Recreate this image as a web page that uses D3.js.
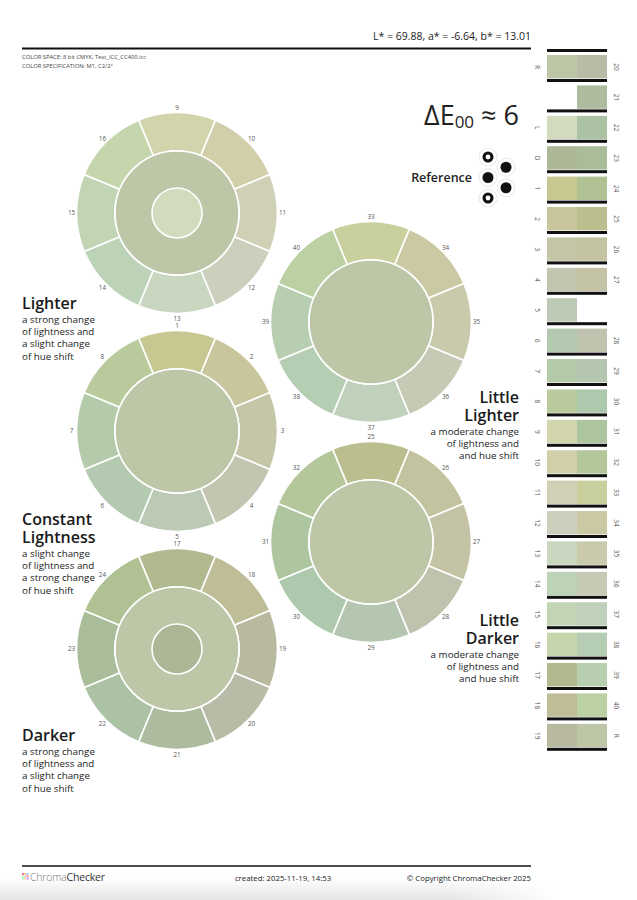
<!DOCTYPE html>
<html>
<head>
<meta charset="utf-8">
<script src="https://cdn.jsdelivr.net/npm/d3@7"></script>
<style>
  body { margin: 0; background: #fff; }
  svg { display: block; font-family: 'Open Sans', sans-serif; }
</style>
</head>
<body>
<div id="chart"></div>
<script>
// patch ids and their displayed colours
const patchIds = ['R', 'L', 'D',
  '1', '2', '3', '4', '5', '6', '7', '8', '9', '10',
  '11', '12', '13', '14', '15', '16', '17', '18', '19', '20',
  '21', '22', '23', '24', '25', '26', '27', '28', '29', '30',
  '31', '32', '33', '34', '35', '36', '37', '38', '39', '40'];
const patchHex = ['#bdc7a8', '#d2dbbe', '#acb795',
  '#c6c791', '#c9c59c', '#c5c6a8', '#c3c5b0', '#bbc9b5', '#b4cab0', '#b3cbab', '#b9cb9d', '#d2d5ab', '#d0cfaa',
  '#cfd0b6', '#cbcfbb', '#c9d6c0', '#bdd3b8', '#c1d5b5', '#c5d6ad', '#b1b98f', '#bfbc98', '#b9b9a0', '#b8bba5',
  '#adbb9f', '#abc3a4', '#a9bd9b', '#b0c193', '#bbbf90', '#c3c39f', '#c4c3a5', '#bfc2ac', '#b5c6b0', '#aec8ae',
  '#aec6a0', '#b4c79b', '#cacf9e', '#cbc9a3', '#c9c9ac', '#c6c9b3', '#bfd1bb', '#b5cdb2', '#b7cfb0', '#bbd0a3'];

// wheels: outer ring patches (clockwise from top), ring colour, optional centre
const wheelPatches = [
  ['9', '10', '11', '12', '13', '14', '15', '16'],
  ['33', '34', '35', '36', '37', '38', '39', '40'],
  ['1', '2', '3', '4', '5', '6', '7', '8'],
  ['25', '26', '27', '28', '29', '30', '31', '32'],
  ['17', '18', '19', '20', '21', '22', '23', '24'],
];
const wheelRing = ['R', 'R', 'R', 'R', 'R'];
const wheelCentre = ['L', null, null, null, 'D'];

// wheel captions
const captionTitles = [['Lighter'], ['Little', 'Lighter'], ['Constant', 'Lightness'], ['Little', 'Darker'], ['Darker']];
const captionLines = [
  ['a strong change', 'of lightness and', 'a slight change', 'of hue shift'],
  ['a moderate change', 'of lightness and', 'and hue shift'],
  ['a slight change', 'of lightness and', 'a strong change', 'of hue shift'],
  ['a moderate change', 'of lightness and', 'and hue shift'],
  ['a strong change', 'of lightness and', 'a slight change', 'of hue shift'],
];

// comparison strip, row by row
const stripLeft = ['R', '', 'L', 'D', '1', '2', '3', '4', '5', '6', '7', '8', '9', '10',
  '11', '12', '13', '14', '15', '16', '17', '18', '19'];
const stripRight = ['20', '21', '22', '23', '24', '25', '26', '27', '', '28', '29', '30', '31', '32',
  '33', '34', '35', '36', '37', '38', '39', '40', 'R'];

// reference symbol: which wheels have a centre patch
const refSymbol = [true, false, false, false, true];

const labText = 'L* = 69.88, a* = -6.64, b* = 13.01';
const colorSpace = 'COLOR SPACE: 8 bit CMYK, Test_ICC_CC400.icc';
const colorSpec = 'COLOR SPECIFICATION: M1, C2/2°';
const created = 'created: 2025-11-19, 14:53';
const copyright = '© Copyright ChromaChecker 2025';

const width = 637, height = 900;
const color = d3.scaleOrdinal().domain(patchIds).range(patchHex);

const svg = d3.select('#chart').append('svg')
  .attr('width', width)
  .attr('height', height)
  .attr('viewBox', [0, 0, width, height]);

// footer shade
const defs = svg.append('defs');
const fg = defs.append('linearGradient').attr('id', 'shade').attr('x1', 0).attr('y1', 0).attr('x2', 0).attr('y2', 1);
fg.append('stop').attr('offset', 0).attr('stop-color', '#fff');
fg.append('stop').attr('offset', 1).attr('stop-color', '#e4e4e4');
const fh = defs.append('linearGradient').attr('id', 'fadeR');
fh.append('stop').attr('offset', 0.8).attr('stop-color', '#fff');
fh.append('stop').attr('offset', 1).attr('stop-color', '#000');
defs.append('mask').attr('id', 'fadeMask')
  .append('rect').attr('x', 0).attr('y', 878).attr('width', 560).attr('height', 22).attr('fill', 'url(#fadeR)');
svg.append('rect')
  .attr('x', 0).attr('y', 878).attr('width', 560).attr('height', 22)
  .attr('fill', 'url(#shade)')
  .attr('mask', 'url(#fadeMask)');

// header
svg.append('text')
  .attr('x', 531).attr('y', 40)
  .attr('text-anchor', 'end')
  .attr('font-size', 10.5)
  .attr('fill', '#222')
  .text(labText);

svg.append('line')
  .attr('x1', 22).attr('x2', 531).attr('y1', 48.5).attr('y2', 48.5)
  .attr('stroke', '#111').attr('stroke-width', 2);

svg.append('g')
  .attr('font-size', 5.8)
  .attr('fill', '#444')
  .selectAll('text')
  .data([colorSpace, colorSpec])
  .join('text')
    .attr('x', 22)
    .attr('y', (d, i) => 59 + i * 9)
    .text(d => d);

// delta E title
const de = svg.append('text')
  .attr('x', 519).attr('y', 125)
  .attr('text-anchor', 'end')
  .attr('fill', '#222');
de.append('tspan').attr('font-size', 27).text('ΔE');
de.append('tspan').attr('font-size', 17).attr('dy', 3).text('00');
de.append('tspan').attr('font-size', 27).attr('dy', -3).text(' ≈ 6');

// reference symbol
svg.append('text')
  .attr('x', 472).attr('y', 182)
  .attr('text-anchor', 'end')
  .attr('font-size', 12.5)
  .attr('font-weight', 600)
  .attr('fill', '#222')
  .text('Reference');

const symX = d3.scalePoint().domain([0, 1]).range([488, 506]);
const symY = d3.scalePoint().domain(d3.range(5)).range([157, 198]);
const sym = svg.append('g')
  .selectAll('g')
  .data(refSymbol)
  .join('g')
    .attr('transform', (d, i) => `translate(${symX(i % 2)},${symY(i)})`);
sym.append('circle').attr('r', 9).attr('fill', 'none').attr('stroke', '#e2e2e2').attr('stroke-width', 0.8);
sym.append('circle').attr('r', 5.5).attr('fill', '#111');
sym.filter(d => d).append('circle').attr('r', 2.4).attr('fill', '#fff');

// wheels
const wheelPos = [[177, 213], [371, 322], [177, 431], [371, 542], [177, 649]];
const pie = d3.pie().value(1).sort(null)
  .startAngle(-Math.PI / 8).endAngle(2 * Math.PI - Math.PI / 8);
const outerArc = d3.arc().innerRadius(62).outerRadius(100.5);
const labelArc = d3.arc().innerRadius(105.5).outerRadius(105.5);

const wheel = svg.append('g')
  .selectAll('g')
  .data(wheelPatches)
  .join('g')
    .attr('transform', (d, i) => `translate(${wheelPos[i]})`);

wheel.selectAll('path')
  .data(d => pie(d))
  .join('path')
    .attr('d', outerArc)
    .attr('fill', d => color(d.data))
    .attr('stroke', '#fff')
    .attr('stroke-width', 1.6);

wheel.append('circle')
  .attr('r', 62)
  .attr('fill', (d, i) => color(wheelRing[i]))
  .attr('stroke', '#fff')
  .attr('stroke-width', 1.6);

wheel.filter((d, i) => wheelCentre[i])
  .append('circle')
  .attr('r', 25)
  .attr('fill', d => color(wheelCentre[wheelPatches.indexOf(d)]))
  .attr('stroke', '#fff')
  .attr('stroke-width', 1.6);

wheel.selectAll('text')
  .data(d => pie(d))
  .join('text')
    .attr('transform', d => `translate(${labelArc.centroid(d)})`)
    .attr('text-anchor', 'middle')
    .attr('dy', '0.35em')
    .attr('font-size', 6.3)
    .attr('fill', '#555')
    .text(d => d.data);

// captions
const capX = [22, 519, 22, 519, 22];
const capY = [309, 403, 525, 626, 741];
const caption = svg.append('g')
  .selectAll('g')
  .data(captionTitles)
  .join('g')
    .attr('transform', (d, i) => `translate(${capX[i]},${capY[i]})`)
    .attr('text-anchor', (d, i) => i % 2 ? 'end' : 'start')
    .attr('fill', '#1a1a1a');
caption.selectAll('.title')
  .data(d => d)
  .join('text')
    .attr('class', 'title')
    .attr('y', (d, i) => i * 18)
    .attr('font-size', 16)
    .attr('font-weight', 600)
    .text(d => d);
caption.selectAll('.desc')
  .data((d, i) => captionLines[i].map(t => ({t, off: (d.length - 1) * 18})))
  .join('text')
    .attr('class', 'desc')
    .attr('y', (d, i) => d.off + 14 + i * 12.2)
    .attr('font-size', 9.8)
    .text(d => d.t);

// comparison strip
const rowY = d3.scaleBand().domain(d3.range(stripLeft.length)).range([52, 52 + 23 * 30.4]);
const colX = d3.scaleBand().domain(['left', 'right']).range([547, 607]);

const strip = svg.append('g');
strip.append('rect')
  .attr('x', 547).attr('y', 49).attr('width', 60).attr('height', 3).attr('fill', '#111');

const row = strip.selectAll('g')
  .data(d3.range(stripLeft.length))
  .join('g')
    .attr('transform', d => `translate(0,${rowY(d)})`);

row.filter(d => stripLeft[d])
  .append('rect')
    .attr('x', colX('left')).attr('y', 3)
    .attr('width', colX.bandwidth()).attr('height', 23.4)
    .attr('fill', d => color(stripLeft[d]));
row.filter(d => stripRight[d])
  .append('rect')
    .attr('x', colX('right')).attr('y', 3)
    .attr('width', colX.bandwidth()).attr('height', 23.4)
    .attr('fill', d => color(stripRight[d]));
row.append('rect')
  .attr('x', 547).attr('y', 27).attr('width', 60).attr('height', 3)
  .attr('fill', '#111');

row.append('text')
  .attr('transform', 'translate(537,15) rotate(90)')
  .attr('text-anchor', 'middle')
  .attr('dy', '0.35em')
  .attr('font-size', 6.5)
  .attr('fill', '#555')
  .text(d => stripLeft[d]);
row.append('text')
  .attr('transform', 'translate(616,15) rotate(90)')
  .attr('text-anchor', 'middle')
  .attr('dy', '0.35em')
  .attr('font-size', 6.5)
  .attr('fill', '#555')
  .text(d => stripRight[d]);

// footer
svg.append('line')
  .attr('x1', 22).attr('x2', 531).attr('y1', 866).attr('y2', 866)
  .attr('stroke', '#111').attr('stroke-width', 1.5);

const logoCols = ['#f6c', '#fc6', '#9cf', '#cf9', '#ccc', '#f99', '#9fc', '#fc9', '#c9f'];
svg.append('g')
  .attr('transform', 'translate(22,873)')
  .selectAll('rect')
  .data(logoCols)
  .join('rect')
    .attr('x', (d, i) => (i % 3) * 2.3)
    .attr('y', (d, i) => Math.floor(i / 3) * 2.3)
    .attr('width', 2)
    .attr('height', 2)
    .attr('fill', d => d);

const logo = svg.append('text')
  .attr('x', 30).attr('y', 881)
  .attr('font-size', 10.5)
  .attr('letter-spacing', -0.2);
logo.append('tspan').attr('fill', '#777').attr('font-weight', 300).text('Chroma');
logo.append('tspan').attr('fill', '#333').attr('font-weight', 500).text('Checker');

svg.append('text')
  .attr('x', 283).attr('y', 881)
  .attr('text-anchor', 'middle')
  .attr('font-size', 7.8)
  .attr('fill', '#222')
  .text(created);

svg.append('text')
  .attr('x', 531).attr('y', 881)
  .attr('text-anchor', 'end')
  .attr('font-size', 7.8)
  .attr('fill', '#222')
  .text(copyright);
</script>
</body>
</html>
